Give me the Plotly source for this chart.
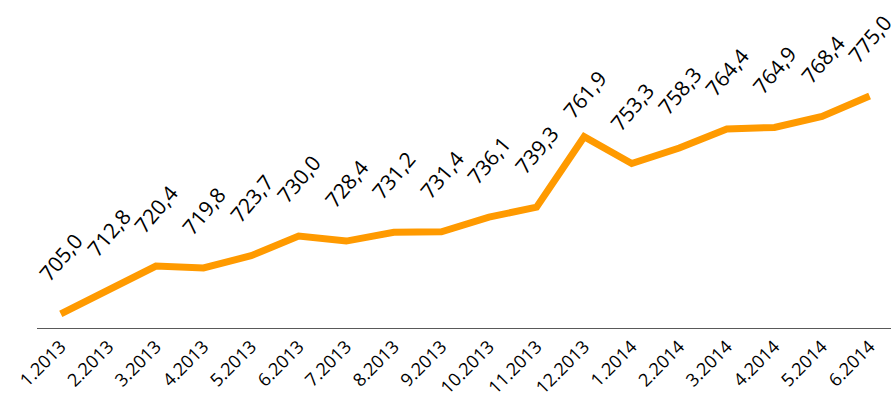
import plotly.graph_objects as go

categories = ["1.2013", "2.2013", "3.2013", "4.2013", "5.2013", "6.2013", "7.2013",
              "8.2013", "9.2013", "10.2013", "11.2013", "12.2013", "1.2014", "2.2014",
              "3.2014", "4.2014", "5.2014", "6.2014"]
values = [705.0, 712.8, 720.4, 719.8, 723.7, 730.0, 728.4, 731.2, 731.4, 736.1,
          739.3, 761.9, 753.3, 758.3, 764.4, 764.9, 768.4, 775.0]
labels = [f"{v:.1f}".replace(".", ",") for v in values]

# label placement (style): default offset above the point, peak label sits lower
LABEL_SHIFT = 57
PEAK_SHIFT = 42

fig = go.Figure()
fig.add_trace(go.Scatter(
    x=categories, y=values, mode="lines",
    line=dict(color="#FF9A00", width=7, shape="linear"),
    hoverinfo="skip",
))

peak = values.index(max(values[:13]))
for i, (v, t) in enumerate(zip(values, labels)):
    fig.add_annotation(x=i, y=v, text=t, showarrow=False, textangle=-50,
                       yshift=PEAK_SHIFT if i == peak else LABEL_SHIFT,
                       font=dict(family="Open Sans", size=21, color="#000000"))

fig.update_layout(
    width=891, height=403,
    margin=dict(l=37, r=0, t=0, b=75, autoexpand=False),
    paper_bgcolor="white", plot_bgcolor="white",
    showlegend=False,
    font=dict(family="Open Sans", color="#000000"),
    xaxis=dict(type="category", range=[-0.5, 17.45], showgrid=False, zeroline=False,
               automargin=False,
               showline=True, linecolor="#595959", linewidth=1, ticks="",
               tickangle=-45, tickfont=dict(size=18, family="Open Sans", color="#000000")),
    yaxis=dict(range=[700.5, 805.8], visible=False, showgrid=False, zeroline=False,
               automargin=False),
)

fig.write_html("out.html", config={"displayModeBar": False},
               post_script="document.body.style.margin='0';document.body.style.overflow='hidden';")
